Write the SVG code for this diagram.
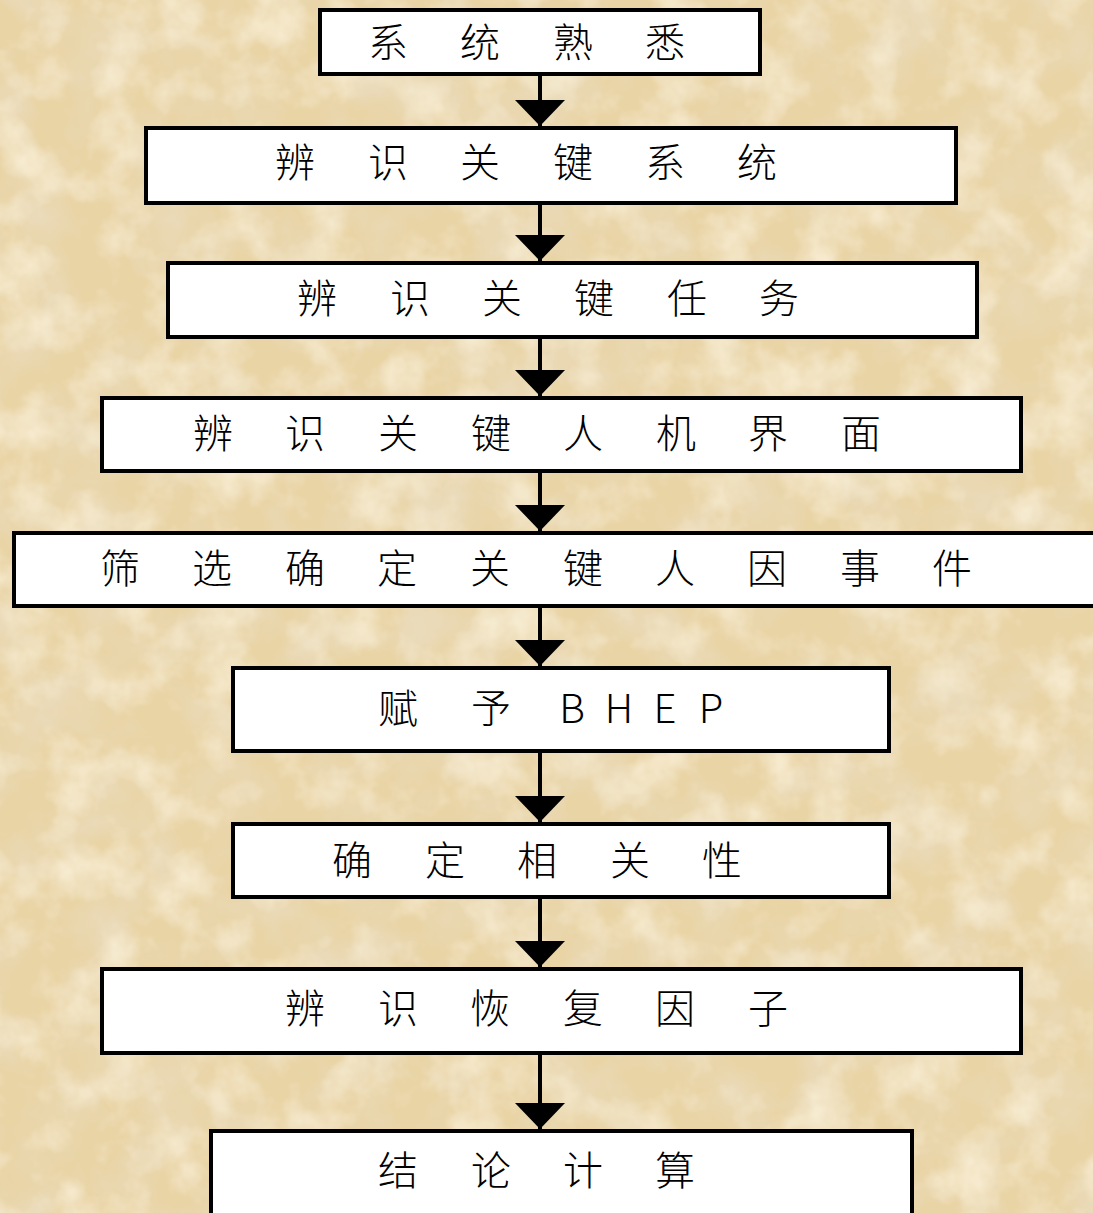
<svg xmlns="http://www.w3.org/2000/svg" width="1093" height="1213" viewBox="0 0 1093 1213">
<defs>
<filter id="paper" x="0" y="0" width="100%" height="100%">
<feTurbulence type="fractalNoise" baseFrequency="0.015" numOctaves="4" seed="7" result="n"/>
<feColorMatrix in="n" type="matrix" values="0 0 0 0 0.82  0 0 0 0 0.71  0 0 0 0 0.50  0 0 0 2.2 -0.95" result="dark"/>
<feTurbulence type="fractalNoise" baseFrequency="0.02" numOctaves="4" seed="21" result="n2"/>
<feColorMatrix in="n2" type="matrix" values="0 0 0 0 0.96  0 0 0 0 0.88  0 0 0 0 0.70  0 0 0 1.8 -0.8" result="light"/>
<feMerge><feMergeNode in="SourceGraphic"/><feMergeNode in="dark"/><feMergeNode in="light"/></feMerge>
</filter>
<marker id="ah" markerWidth="26" markerHeight="50" refX="26" refY="25" orient="auto" markerUnits="userSpaceOnUse" viewBox="0 0 26 50">
<path d="M0 0 L26 25 L0 50 Z" fill="#000"/>
</marker>
</defs>
<style>
.box{fill:#fff;stroke:#000;stroke-width:4}
.t{font-family:"Noto Sans CJK SC","Noto Sans",sans-serif;font-size:40px;font-weight:300;fill:#000;text-anchor:middle}
.c{stroke:#000;stroke-width:4;fill:none}
</style>
<rect width="1093" height="1213" fill="#e9d4a6" filter="url(#paper)"/>
<g id="connectors">
<line class="c" x1="540" y1="75" x2="540" y2="126" marker-end="url(#ah)"/>
<line class="c" x1="540" y1="204" x2="540" y2="261" marker-end="url(#ah)"/>
<line class="c" x1="540" y1="338" x2="540" y2="396" marker-end="url(#ah)"/>
<line class="c" x1="540" y1="472" x2="540" y2="531" marker-end="url(#ah)"/>
<line class="c" x1="540" y1="607" x2="540" y2="666" marker-end="url(#ah)"/>
<line class="c" x1="540" y1="752" x2="540" y2="822" marker-end="url(#ah)"/>
<line class="c" x1="540" y1="898" x2="540" y2="967" marker-end="url(#ah)"/>
<line class="c" x1="540" y1="1054" x2="540" y2="1129" marker-end="url(#ah)"/>
</g>
<g id="n1"><rect class="box" x="320" y="10" width="440" height="64"/><text class="t" x="388 480 573 665" y="57">系统熟悉</text></g>
<g id="n2"><rect class="box" x="146" y="128" width="810" height="75"/><text class="t" x="295 388 480 573 665 757" y="177">辨识关键系统</text></g>
<g id="n3"><rect class="box" x="168" y="263" width="809" height="74"/><text class="t" x="317 410 502 594 687 779" y="313">辨识关键任务</text></g>
<g id="n4"><rect class="box" x="102" y="398" width="919" height="73"/><text class="t" x="213 305 398 491 583 676 768 861" y="448">辨识关键人机界面</text></g>
<g id="n5"><rect class="box" x="14" y="533" width="1100" height="73"/><text class="t" x="120 212 305 397 490 583 675 767 860 952" y="583">筛选确定关键人因事件</text></g>
<g id="n6"><rect class="box" x="233" y="668" width="656" height="83"/><text class="t" x="398 491 572 619 665 711" y="723">赋予BHEP</text></g>
<g id="n7"><rect class="box" x="233" y="824" width="656" height="73"/><text class="t" x="352 445 537 630 722" y="875">确定相关性</text></g>
<g id="n8"><rect class="box" x="102" y="969" width="919" height="84"/><text class="t" x="305 398 490 583 675 768" y="1023">辨识恢复因子</text></g>
<g id="n9"><rect class="box" x="211" y="1131" width="701" height="110"/><text class="t" x="398 491 583 675" y="1185">结论计算</text></g>
</svg>
